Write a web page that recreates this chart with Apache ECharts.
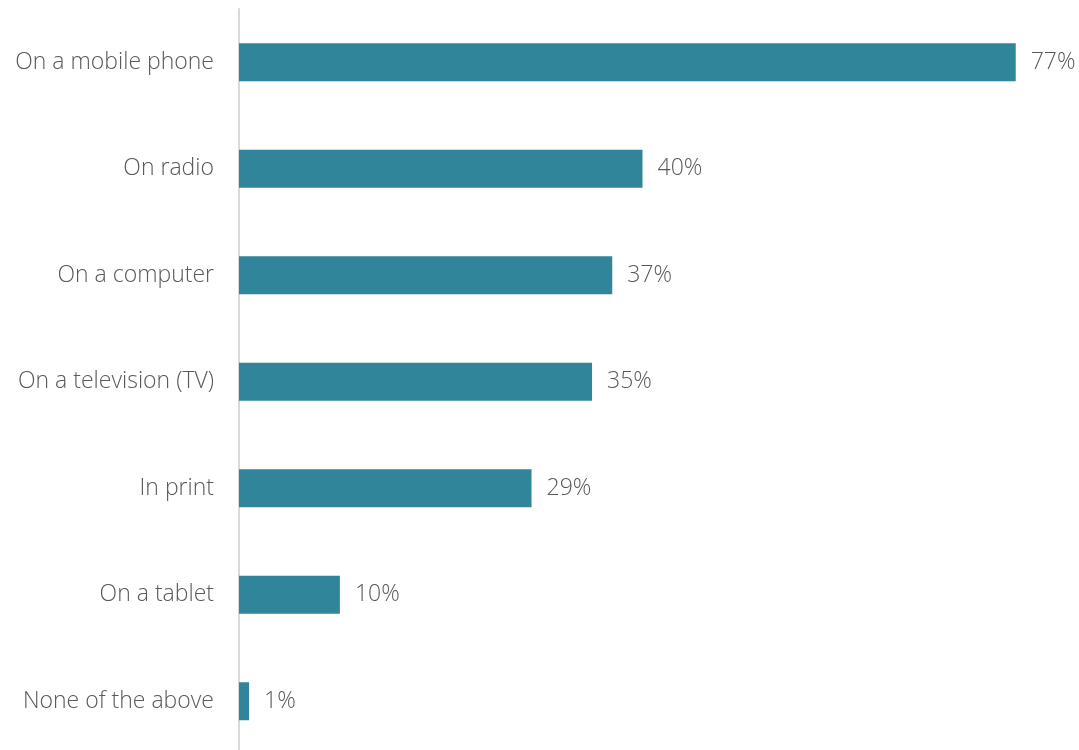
<!DOCTYPE html>
<html>
<head>
<meta charset="utf-8">
<script src="https://cdn.jsdelivr.net/npm/echarts@6/dist/echarts.min.js"></script>
<style>
  html, body { margin: 0; padding: 0; background: #ffffff; overflow: hidden; }
  #chart { width: 1079px; height: 760px; }
</style>
</head>
<body>
<div id="chart"></div>
<script>
// Where people get their news (share of respondents)
const categories = [
  'On a mobile phone',
  'On radio',
  'On a computer',
  'On a television (TV)',
  'In print',
  'On a tablet',
  'None of the above'
];
const shares = [77, 40, 37, 35, 29, 10, 1];

const textColor = '#595959';
const barColor = '#31859b';
const fontFamily = '"Open Sans", "Noto Sans", sans-serif';

const chart = echarts.init(document.getElementById('chart'));
chart.setOption({
  animation: false,
  grid: { left: 239, top: 9, width: 807, height: 745.5 },
  xAxis: {
    type: 'value',
    min: 0,
    max: 80,
    show: false
  },
  yAxis: {
    type: 'category',
    inverse: true,
    data: categories,
    axisLine: { show: true, lineStyle: { color: '#d9d9d9', width: 2 } },
    axisTick: { show: false },
    axisLabel: {
      color: textColor,
      fontSize: 23,
      fontWeight: 350,
      fontFamily: fontFamily,
      margin: 25
    }
  },
  series: [{
    type: 'bar',
    data: shares,
    barWidth: 38,
    itemStyle: { color: barColor },
    label: {
      show: true,
      position: 'right',
      distance: 15,
      color: textColor,
      fontSize: 23,
      fontWeight: 350,
      fontFamily: fontFamily,
      formatter: p => p.value + '%'
    }
  }]
});
</script>
</body>
</html>
